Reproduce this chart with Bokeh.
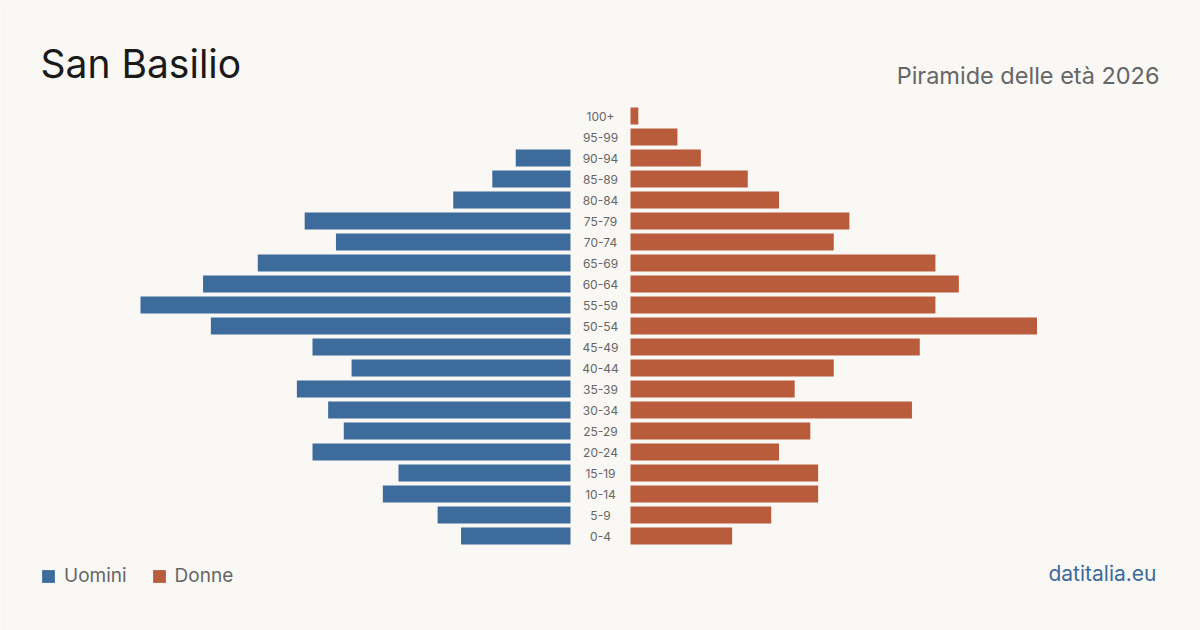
from bokeh.plotting import figure
from bokeh.models import ColumnDataSource, Label, Legend, LegendItem, Range1d
from bokeh.core.properties import value
from bokeh.embed import file_html
from bokeh.resources import INLINE

# ---- data ----
age_groups = ["0-4", "5-9", "10-14", "15-19", "20-24", "25-29", "30-34", "35-39",
              "40-44", "45-49", "50-54", "55-59", "60-64", "65-69", "70-74",
              "75-79", "80-84", "85-89", "90-94", "95-99", "100+"]
men = [14, 17, 24, 22, 33, 29, 31, 35, 28, 33, 46, 55, 47, 40, 30, 34, 15, 10, 7, 0, 0]
women = [13, 18, 24, 24, 19, 23, 36, 21, 26, 37, 52, 39, 42, 39, 26, 28, 19, 15, 9, 6, 1]

title = "San Basilio"
subtitle = "Piramide delle età 2026"
credit = "datitalia.eu"
men_label = "Uomini"
women_label = "Donne"

# ---- style ----
W, H = 1200, 630
BG = "#f9f8f4"
BLUE = "#3d6b9b"
ORANGE = "#b95c3c"
GREY = "#666666"
FONT = "Inter"

unit_px = 430 / 55.0           # pixels per person
gap = 30 / unit_px             # half-gap around the labels, in data units
row_px = 21.0

idx = list(range(len(age_groups)))
src = ColumnDataSource(dict(
    y=idx,
    age=age_groups,
    men_left=[-(gap + v) for v in men],
    men_right=[-gap] * len(men),
    women_left=[gap] * len(women),
    women_right=[gap + v for v in women],
))

half_w = (W / 2) / unit_px
y0 = -(94.5 / row_px)
p = figure(width=W, height=H, output_backend="svg", toolbar_location=None,
           x_range=Range1d(-half_w, half_w), y_range=Range1d(y0, y0 + H / row_px),
           min_border=0, min_border_left=0, min_border_right=0,
           min_border_top=0, min_border_bottom=0)
p.background_fill_color = BG
p.border_fill_color = BG
p.outline_line_color = None
p.xaxis.visible = False
p.yaxis.visible = False
p.xgrid.visible = False
p.ygrid.visible = False

h = 16.8 / row_px
r_men = p.hbar(y="y", left="men_left", right="men_right", height=h, source=src,
               fill_color=BLUE, line_color=None)
r_women = p.hbar(y="y", left="women_left", right="women_right", height=h, source=src,
                 fill_color=ORANGE, line_color=None)

p.text(x=0, y="y", text="age", source=src, text_align="center", text_baseline="middle",
       text_font=value(FONT), text_font_size="12px", text_color=GREY)

# titles
p.add_layout(Label(x=40, y=H - 86, x_units="screen", y_units="screen", text=title,
                   text_font=FONT, text_font_size="39px", text_color="#1a1a1a"))
p.add_layout(Label(x=1159, y=H - 89, x_units="screen", y_units="screen", text=subtitle,
                   text_align="right", text_font=FONT, text_font_size="23.5px",
                   text_color=GREY))
p.add_layout(Label(x=1156, y=H - 585, x_units="screen", y_units="screen", text=credit,
                   text_align="right", text_font=FONT, text_font_size="21px",
                   text_color=BLUE))

legend = Legend(items=[LegendItem(label=men_label, renderers=[r_men]),
                       LegendItem(label=women_label, renderers=[r_women])],
                location=(30, 33), orientation="horizontal",
                glyph_width=16, glyph_height=16, label_standoff=8, spacing=24,
                padding=10, margin=0,
                label_text_font=FONT, label_text_font_size="19px",
                label_text_color=GREY, background_fill_alpha=0, border_line_alpha=0)
p.add_layout(legend)

open("out.html", "w").write(file_html(p, INLINE))
